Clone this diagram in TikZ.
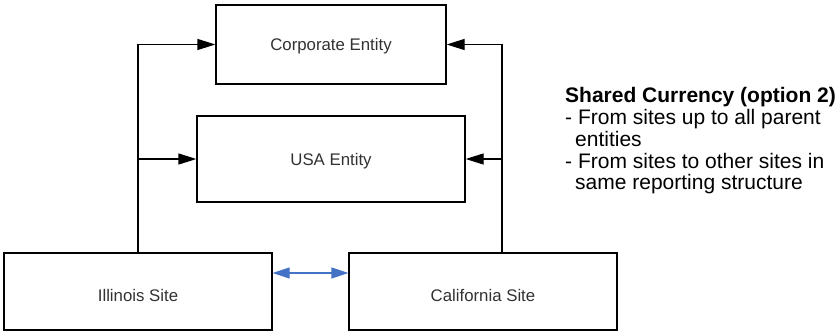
\documentclass[tikz,border=0pt]{standalone}
\usepackage{fontspec}
\setmainfont{Liberation Sans}
\usetikzlibrary{arrows.meta}
\definecolor{linkblue}{RGB}{68,114,196}
\definecolor{labelgray}{RGB}{50,50,50}
\begin{document}
\begin{tikzpicture}[x=1pt,y=-1pt,
  box/.style={draw=black, line width=1.3pt, fill=white, inner sep=0pt, text depth=0pt,
    font=\fontsize{16.8}{20}\selectfont, text=labelgray},
  uparrow/.style={draw=black, line width=1.3pt, -{Triangle[length=18pt,width=11pt]}},
  sitelink/.style={draw=linkblue, line width=1.3pt,
    {Triangle[length=17pt,width=11pt]}-{Triangle[length=17pt,width=11pt]}},
  notetext/.style={anchor=north west, inner sep=0pt, align=left,
    font=\fontsize{21}{21.7}\selectfont, text=black}
]
\useasboundingbox (0,0) rectangle (838,331);

\node[box, minimum width=230pt, minimum height=79pt] (corp) at (331,44.5) {Corporate Entity};
\node[box, minimum width=268pt, minimum height=86pt] (usa) at (331,159) {USA Entity};
\node[box, minimum width=268pt, minimum height=77pt, text height=19pt] (ill) at (138,291.5) {Illinois Site};
\node[box, minimum width=268pt, minimum height=77pt, text height=19pt] (cal) at (483,291.5) {California Site};

\coordinate (calup) at ([xshift=19pt]cal.north);

\draw[uparrow] (ill.north) |- (corp.west);
\draw[uparrow] (ill.north |- usa.west) -- (usa.west);
\draw[uparrow] (calup) |- (corp.east);
\draw[uparrow] (calup |- usa.east) -- (usa.east);
\draw[sitelink] ([yshift=18.5pt]ill.east) -- ([yshift=18.5pt]cal.west);

\node[notetext] (note) at (565,87.5) {\textbf{Shared Currency (option 2)}\\
- From sites up to all parent\\
\hspace*{10pt}entities\\
- From sites to other sites in\\
\hspace*{10pt}same reporting structure};
\end{tikzpicture}
\end{document}
